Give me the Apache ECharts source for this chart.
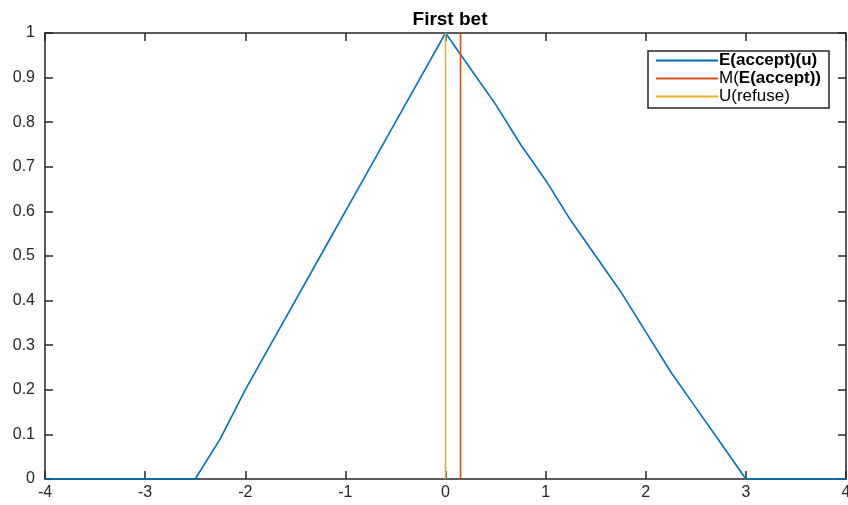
<!DOCTYPE html>
<html>
<head>
<meta charset="utf-8">
<script src="https://cdn.jsdelivr.net/npm/echarts@6/dist/echarts.min.js"></script>
<style>
  html, body { margin: 0; padding: 0; background: #fff; }
  #chart { width: 848px; height: 505px; }
</style>
</head>
<body>
<div id="chart"></div>
<script>
// values
var acceptX = [-4, -2.5, -2.25, -2, -1.75, -1.5, -1.25, -1, -0.75, -0.5, -0.25, 0,
               0.25, 0.5, 0.75, 1, 1.25, 1.5, 1.75, 2, 2.25, 2.5, 2.75, 3, 4];
var acceptY = [0, 0, 0.09, 0.2, 0.3, 0.4, 0.5, 0.6, 0.7, 0.8, 0.9, 1,
               0.92, 0.84, 0.75, 0.67, 0.58, 0.5, 0.42, 0.33, 0.24, 0.16, 0.08, 0, 0];
var meanAccept = 0.15;
var refuseU = 0;
var xTicks = [-4, -3, -2, -1, 0, 1, 2, 3, 4];
var yTicks = [0, 0.1, 0.2, 0.3, 0.4, 0.5, 0.6, 0.7, 0.8, 0.9, 1];

var names = ['E(accept)(u)', 'M(E(accept))', 'U(refuse)'];
var colors = ['#0072BD', '#D95319', '#EDB120'];
var axisColor = '#262626';
var font = 'Liberation Sans, Arial, Helvetica, sans-serif';

var chart = echarts.init(document.getElementById('chart'));

function pairs(xs, ys) {
    var out = [];
    for (var i = 0; i < xs.length; i++) out.push([xs[i], ys[i]]);
    return out;
}

function boxAxis(pos, showLabel) {
    var isY = pos == 'left' || pos == 'right';
    var ticks = isY ? yTicks : xTicks;
    return {
        type: 'value',
        position: pos,
        min: ticks[0],
        max: ticks[ticks.length - 1],
        interval: isY ? 0.1 : 1,
        axisLine: { show: true, onZero: false, lineStyle: { color: axisColor, width: 1.5 } },
        axisTick: { show: true, inside: true, length: 8, lineStyle: { color: axisColor, width: 1.5 } },
        axisLabel: {
            show: showLabel,
            color: axisColor,
            fontFamily: font,
            fontSize: 16,
            margin: isY ? 10 : 6,
            formatter: function (v) { return String(Math.round(v * 10) / 10); }
        },
        splitLine: { show: false }
    };
}

var option = {
    animation: false,
    backgroundColor: '#fff',
    title: {
        text: 'First bet',
        left: 445,
        textAlign: 'center',
        top: 5,
        textStyle: { fontFamily: font, fontSize: 19, fontWeight: 'bold', color: '#000' }
    },
    grid: { left: 45, right: 2, top: 33, bottom: 26, outerBoundsMode: 'none', containLabel: false },
    xAxis: [boxAxis('bottom', true), boxAxis('top', false)],
    yAxis: [boxAxis('left', true), boxAxis('right', false)],
    legend: {
        data: names,
        orient: 'vertical',
        left: 648,
        top: 51,
        padding: [1, 8, 3, 8],
        itemGap: 1,
        itemWidth: 62,
        itemHeight: 2,
        icon: 'rect',
        backgroundColor: '#fff',
        borderColor: '#262626',
        borderWidth: 1.5,
        borderRadius: 0,
        selectedMode: false,
        textStyle: {
            fontFamily: font,
            fontSize: 17,
            color: '#000',
            padding: [0, 0, 0, -4],
            rich: {
                b: { fontFamily: font, fontSize: 17, fontWeight: 'bold', color: '#000' },
                n: { fontFamily: font, fontSize: 17, color: '#000' }
            }
        },
        formatter: function (name) {
            if (name == names[0]) return '{b|E(accept)(u)}';
            if (name == names[1]) return '{n|M(}{b|E(accept))}';
            return '{n|U(refuse)}';
        }
    },
    series: [
        {
            name: names[0],
            type: 'line',
            data: pairs(acceptX, acceptY),
            symbol: 'none',
            clip: false,
            lineStyle: { color: colors[0], width: 1.6 },
            itemStyle: { color: colors[0] },
            z: 3
        },
        {
            name: names[1],
            type: 'line',
            data: [[meanAccept, 0], [meanAccept, 1]],
            symbol: 'none',
            lineStyle: { color: colors[1], width: 1.6 },
            itemStyle: { color: colors[1] },
            z: 4
        },
        {
            name: names[2],
            type: 'line',
            data: [[refuseU, 0], [refuseU, 1]],
            symbol: 'none',
            lineStyle: { color: colors[2], width: 1.6 },
            itemStyle: { color: colors[2] },
            z: 5
        }
    ]
};

chart.setOption(option);
</script>
</body>
</html>
